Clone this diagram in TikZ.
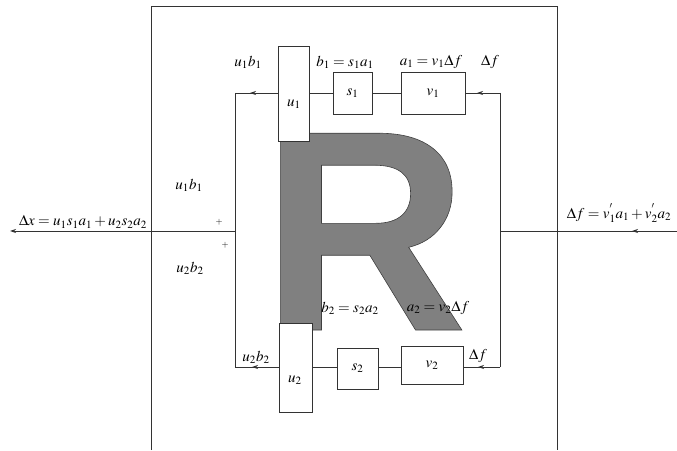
\documentclass[tikz,border=0pt]{standalone}
\usepackage{mathptmx}
\usepackage{fontspec}
\newfontfamily\bigsans{Liberation Sans}[BoldFont={Liberation Sans Bold}]
\usetikzlibrary{arrows.meta}
\tikzset{
  ln/.style={draw=black!80, line width=0.8pt},
  arr/.style={ln, -{Stealth[length=6pt,width=4pt]}},
  blk/.style={ln, fill=white, inner sep=0pt, minimum width=#1},
  lbl/.style={inner sep=0pt, font=\fontsize{15}{17}\selectfont},
  plus/.style={inner sep=0pt, font=\fontsize{9}{10}\selectfont}
}
\begin{document}
\begin{tikzpicture}[x=1pt,y=1pt]
\useasboundingbox (0,0) rectangle (677,450);
% big R
\node[anchor=base west, inner sep=0pt, text=black!50, font=\bigsans\bfseries\fontsize{286}{286}\selectfont] (bigR) at (261,120) {\special{pdf:literal 0.25 G 0.6 w 2 Tr}R\special{pdf:literal 0 Tr}};
% outer frame
\draw[ln] (151,0) -- (151,444) -- (557,444) -- (557,0);
% corners
\coordinate (tl) at (235,357);
\coordinate (tr) at (500,357);
\coordinate (bl) at (235,83);
\coordinate (br) at (500,83);
\coordinate (ml) at (235,219);
\coordinate (mr) at (500,219);
\coordinate (xout) at (10,219);
\coordinate (fin) at (677,219);
% loops
\draw[ln] (tl) -- (bl);
\draw[ln] (tr) -- (br);
\draw[ln] (tl) -- (tr);
\draw[ln] (bl) -- (br);
\draw[arr] (ml) -- (xout);
\draw[ln] (mr) -- (fin);
\draw[arr] (fin) -- (632,219);
\draw[arr] (278,357) -- (250,357);
\draw[arr] (tr) -- (477,357);
\draw[arr] (279,83) -- (252,83);
\draw[arr] (br) -- (478,83);
% blocks
\node[blk=31pt, minimum height=95pt] (u1) at (293.5,356.5) {};
\node[lbl] at (294,346) {$u_1$};
\node[blk=39pt, minimum height=42pt, lbl] (s1) at (352.5,357) {$s_1$};
\node[blk=64pt, minimum height=42pt, lbl] (v1) at (433,357) {$v_1$};
\node[blk=33pt, minimum height=89pt] (u2) at (295.5,82.5) {};
\node[lbl] at (295,70) {$u_2$};
\node[blk=41pt, minimum height=41pt, lbl] (s2) at (357.5,81.5) {$s_2$};
\node[blk=62pt, minimum height=38pt, lbl] (v2) at (432,85) {$v_2$};
% labels
\node[lbl] (l1) at (248,388) {$u_1b_1$};
\node[lbl] (l2) at (345,388) {$b_1=s_1a_1$};
\node[lbl] (l3) at (431,388) {$a_1=v_1\Delta f$};
\node[lbl] (l4) at (490,388) {$\Delta f$};
\node[lbl] (l5) at (189,265) {$u_1b_1$};
\node[plus] (p1) at (219,228) {$+$};
\node[plus] (p2) at (225,205) {$+$};
\node[lbl] (l6) at (190,182) {$u_2b_2$};
\node[lbl] (l7) at (83,228) {$\Delta x=u_1s_1a_1+u_2s_2a_2$};
\node[lbl] (l8) at (619,237) {$\Delta f=v^{'}_1a_1+v^{'}_2a_2$};
\node[lbl] (l9) at (350,142) {$b_2=s_2a_2$};
\node[lbl] (l10) at (438,142) {$a_2=v_2\Delta f$};
\node[lbl] (l11) at (256,93) {$u_2b_2$};
\node[lbl] (l12) at (478,94) {$\Delta f$};
\end{tikzpicture}
\end{document}
